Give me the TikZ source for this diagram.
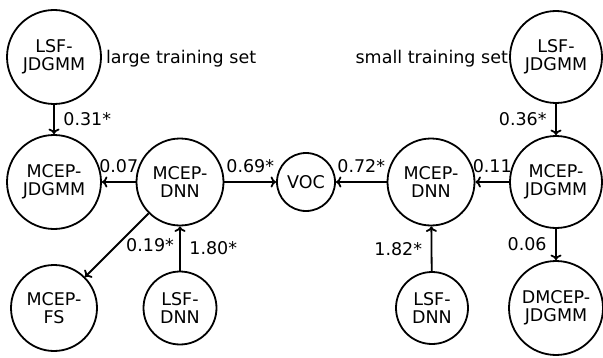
\documentclass[tikz,border=0pt]{standalone}
\usepackage{fontspec}
\setmainfont{DejaVu Sans}
\usetikzlibrary{arrows.meta}
\begin{document}
\begin{tikzpicture}[x=1pt,y=1pt,
  font=\fontsize{17.5}{18.5}\selectfont,
  stage/.style={circle, draw, line width=1.8pt, inner sep=0pt, align=center},
  link/.style={line width=1.8pt, -{To[length=5.5pt,width=11pt]}},
  wt/.style={inner sep=8.5pt, midway},
  setname/.style={inner sep=0pt}]
\useasboundingbox (0,0) rectangle (603,357);

% large training set (left half)
\node[stage, minimum size=94pt] (lj1) at (54,300) {LSF-\\JDGMM};
\node[stage, minimum size=94pt] (mj1) at (54,175) {MCEP-\\JDGMM};
\node[stage, minimum size=87pt] (md1) at (180,175) {MCEP-\\DNN};
\node[stage, minimum size=86pt] (fs)  at (54,49)  {MCEP-\\FS};
\node[stage, minimum size=73pt] (ld1) at (180,49) {LSF-\\DNN};

% vocoder in the middle
\node[stage, minimum size=58pt] (voc) at (306,175) {VOC};

% small training set (right half)
\node[stage, minimum size=92pt] (lj2) at (556,300) {LSF-\\JDGMM};
\node[stage, minimum size=92pt] (mj2) at (556,175) {MCEP-\\JDGMM};
\node[stage, minimum size=87pt] (md2) at (431,175) {MCEP-\\DNN};
\node[stage, minimum size=72pt] (ld2) at (432,49) {LSF-\\DNN};
\node[stage, minimum size=94pt] (dj2) at (556,49) {DMCEP-\\JDGMM};

% set captions
\node[setname, anchor=base west] (cap1) at ([xshift=4pt,yshift=-6pt]lj1.east) {large training set};
\node[setname, anchor=base east] (cap2) at ([xshift=-1pt,yshift=-6pt]lj2.west) {small training set};

% preference links, left
\draw[link] (lj1) -- node[wt, right] {0.31*} (mj1);
\draw[link] (md1) -- node[wt, above] {0.07} (mj1);
\draw[link] (md1) -- node[wt, above] {0.69*} (voc);
\draw[link] (md1) -- node[wt, right] {0.19*} (fs);
\draw[link] (ld1) -- node[wt, right] {1.80*} (md1);

% preference links, right
\draw[link] (md2) -- node[wt, above] {0.72*} (voc);
\draw[link] (mj2) -- node[wt, above] {0.11} (md2);
\draw[link] (lj2) -- node[wt, left] {0.36*} (mj2);
\draw[link] (ld2) -- node[wt, left] {1.82*} (md2);
\draw[link] (mj2) -- node[wt, left] {0.06} (dj2);
\end{tikzpicture}
\end{document}
